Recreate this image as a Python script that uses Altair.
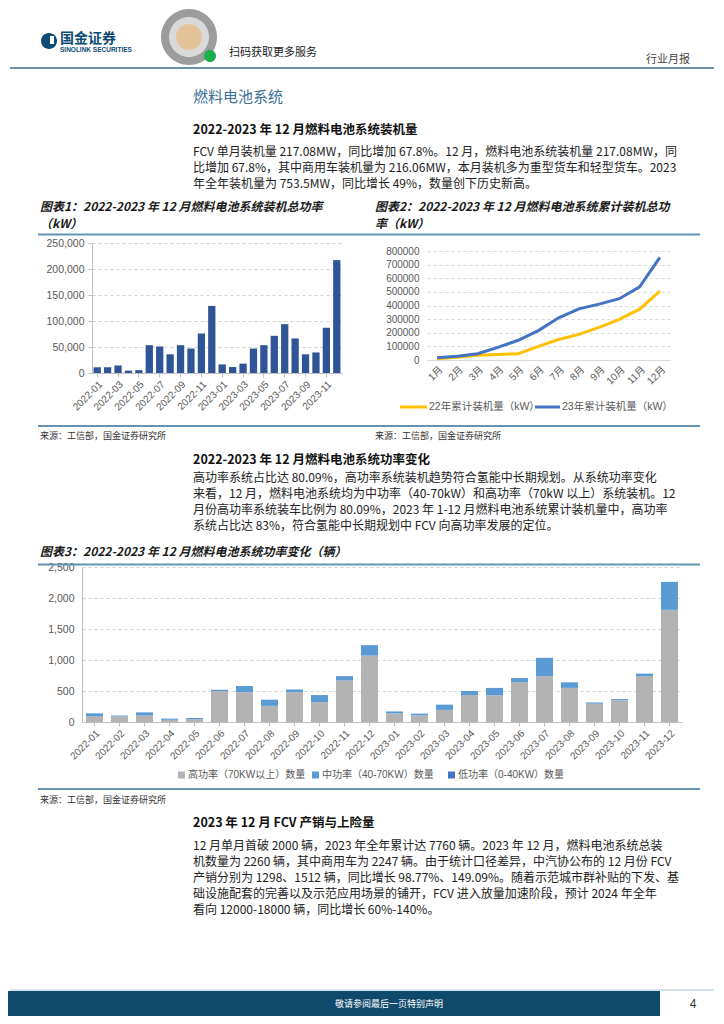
import altair as alt
import pandas as pd

# ------------------------- data -------------------------
months24 = ["2022-01", "2022-02", "2022-03", "2022-04", "2022-05", "2022-06",
            "2022-07", "2022-08", "2022-09", "2022-10", "2022-11", "2022-12",
            "2023-01", "2023-02", "2023-03", "2023-04", "2023-05", "2023-06",
            "2023-07", "2023-08", "2023-09", "2023-10", "2023-11", "2023-12"]
install_kw = [11000, 11000, 14500, 4500, 5500, 53500, 51000, 36000, 53500, 47000, 76000, 129000,
              16500, 11500, 18000, 47000, 53500, 71500, 94000, 66500, 36000, 39500, 87000, 217080]

months12 = ["1月", "2月", "3月", "4月", "5月", "6月", "7月", "8月", "9月", "10月", "11月", "12月"]
cum_names = ["22年累计装机量（kW）", "23年累计装机量（kW）"]
cum22 = [10000, 21000, 35000, 41000, 46000, 100000, 150000, 188000, 240000, 298000, 373000, 506000]
cum23 = [17000, 28000, 46000, 93000, 145000, 216000, 310000, 375000, 410000, 450000, 537000, 753500]

power_names = ["高功率（70KW以上）数量", "中功率（40-70KW）数量", "低功率（0-40KW）数量"]
high = [90, 90, 105, 35, 45, 500, 480, 260, 480, 320, 670, 1070,
        140, 105, 195, 435, 430, 640, 740, 550, 295, 350, 740, 1810]
mid = [50, 15, 50, 20, 20, 20, 100, 100, 45, 115, 60, 170,
       30, 30, 85, 65, 120, 70, 295, 90, 20, 20, 40, 450]
low = [0, 0, 0, 0, 0, 0, 0, 0, 0, 0, 10, 0,
       0, 0, 0, 0, 0, 0, 0, 0, 0, 0, 0, 0]

y1_ticks = [0, 50000, 100000, 150000, 200000, 250000]
y2_ticks = [0, 100000, 200000, 300000, 400000, 500000, 600000, 700000, 800000]
y3_ticks = [0, 500, 1000, 1500, 2000, 2500]
x1_labels = ["2022-01", "2022-03", "2022-05", "2022-07", "2022-09", "2022-11",
             "2023-01", "2023-03", "2023-05", "2023-07", "2023-09", "2023-11"]

# ------------------------- texts -------------------------
brand_cn = "国金证券"
brand_en = "SINOLINK SECURITIES"
qr_text = "扫码获取更多服务"
report_type = "行业月报"
section_title = "燃料电池系统"
sub1 = "2022-2023 年 12 月燃料电池系统装机量"
para1 = ["FCV 单月装机量 217.08MW，同比增加 67.8%。12 月，燃料电池系统装机量 217.08MW，同",
         "比增加 67.8%，其中商用车装机量为 216.06MW，本月装机多为重型货车和轻型货车。2023",
         "年全年装机量为 753.5MW，同比增长 49%，数量创下历史新高。"]
fig1_title = ["图表1：2022-2023 年 12 月燃料电池系统装机总功率", "（kW）"]
fig2_title = ["图表2：2022-2023 年 12 月燃料电池系统累计装机总功", "率（kW）"]
source = "来源：工信部，国金证券研究所"
sub2 = "2022-2023 年 12 月燃料电池系统功率变化"
para2 = ["高功率系统占比达 80.09%，高功率系统装机趋势符合氢能中长期规划。从系统功率变化",
         "来看，12 月，燃料电池系统均为中功率（40-70kW）和高功率（70kW 以上）系统装机。12",
         "月份高功率系统装车比例为 80.09%，2023 年 1-12 月燃料电池系统累计装机量中，高功率",
         "系统占比达 83%，符合氢能中长期规划中 FCV 向高功率发展的定位。"]
fig3_title = "图表3：2022-2023 年 12 月燃料电池系统功率变化（辆）"
sub3 = "2023 年 12 月 FCV 产销与上险量"
para3 = ["12 月单月首破 2000 辆，2023 年全年累计达 7760 辆。2023 年 12 月，燃料电池系统总装",
         "机数量为 2260 辆，其中商用车为 2247 辆。由于统计口径差异，中汽协公布的 12 月份 FCV",
         "产销分别为 1298、1512 辆，同比增长 98.77%、149.09%。随着示范城市群补贴的下发、基",
         "础设施配套的完善以及示范应用场景的铺开，FCV 进入放量加速阶段，预计 2024 年全年",
         "看向 12000-18000 辆，同比增长 60%-140%。"]
footer_text = "敬请参阅最后一页特别声明"
page_no = "4"

# ------------------------- styles -------------------------
BODY = "Noto Sans CJK SC"
NUMF = "Liberation Sans, Noto Sans CJK SC"
NAVY = "#0d4b72"
HEAD = "#3b6e90"
RULE = "#6393b0"
AXC = "#595959"
DUMMY = pd.DataFrame({"d": [0]})


def txt(x, y, s, size=12, color="#222222", weight="normal", style="normal",
        align="left", font=BODY):
    return alt.Chart(pd.DataFrame({"t": [s]})).mark_text(
        align=align, baseline="middle", fontSize=size, color=color,
        fontWeight=weight, fontStyle=style, font=font
    ).encode(x=alt.value(x), y=alt.value(y), text="t:N")


def hline(x1, x2, y, color, w=1.0):
    return alt.Chart(DUMMY).mark_rule(color=color, strokeWidth=w).encode(
        x=alt.value(x1), x2=alt.value(x2), y=alt.value(y))


def box(x1, x2, y1, y2, color, radius=0):
    return alt.Chart(DUMMY).mark_rect(color=color, cornerRadius=radius).encode(
        x=alt.value(x1), x2=alt.value(x2), y=alt.value(y1), y2=alt.value(y2))


def anchor(x, y):
    # invisible zero-length rule that fixes a layout extent
    return alt.Chart(DUMMY).mark_rule(opacity=0, strokeWidth=0).encode(
        x=alt.value(x), x2=alt.value(x), y=alt.value(y))


def spacer(w, h):
    return anchor(1, 1).properties(width=w, height=h)


# ------------------------- row A : header + text -------------------------
top_items = [
    box(33, 49, 25, 41, NAVY, 8), box(42, 46, 28, 36, "white"),
    txt(52, 31, brand_cn, 14, NAVY, "bold"),
    txt(52, 41.5, brand_en, 6.5, NAVY, "bold", font="Liberation Sans"),
    box(153, 209, 1, 57, "#9c9c9c", 28),
    box(161, 201, 9, 49, "#d9d9d9", 20),
    box(168, 194, 16, 42, "#e4c39b", 13),
    box(196, 208, 42, 54, "#1aad4e", 6),
    txt(221, 45, qr_text, 11, "#222222"),
    txt(682, 52, report_type, 11, "#444444", align="right"),
    hline(2, 706, 60, HEAD, 1.5),
    txt(185, 89, section_title, 15, "#3c6f96"),
    txt(185, 122, sub1, 12.5, "#111111", "bold"),
]
top_items += [txt(185, 144 + 16 * i, s, 12) for i, s in enumerate(para1)]
top_items += [txt(32, 199 + 17 * i, s, 12, "#1a1a1a", "bold", "italic") for i, s in enumerate(fig1_title)]
top_items += [txt(367, 199 + 17 * i, s, 12, "#1a1a1a", "bold", "italic") for i, s in enumerate(fig2_title)]
top_items += [hline(30, 692, 226.5, RULE, 2)]
rowA = alt.layer(*top_items).properties(width=706, height=229)

# ------------------------- chart 1 -------------------------
df1 = pd.DataFrame({"month": months24, "kw": install_kw})
x1 = alt.X("month:N", sort=months24, title=None,
           scale=alt.Scale(paddingInner=0.3, paddingOuter=0.15),
           axis=alt.Axis(values=x1_labels, labelAngle=-45, labelFontSize=10, labelColor=AXC,
                         labelFont=NUMF, domainColor="#bfbfbf", tickColor="#bfbfbf", tickSize=4,
                         labelPadding=2))
y1 = alt.Y("kw:Q", title=None, scale=alt.Scale(domain=[0, 250000]),
           axis=alt.Axis(values=y1_ticks, format=",d", grid=True, gridDash=[3, 3],
                         gridColor="#d0d0d0", domainColor="#bfbfbf", tickColor="#bfbfbf",
                         tickSize=4, labelFontSize=10.5, labelColor=AXC, labelFont=NUMF,
                         labelPadding=4))
chart1 = alt.layer(
    alt.Chart(df1).mark_bar(color="#2F5597").encode(x=x1, y=y1),
    anchor(-50, -6), anchor(285, 175),
).properties(width=250, height=130)

# ------------------------- chart 2 (plot drawn 8px lower inside its view) -------------------------
df2 = pd.DataFrame({"month": months12 * 2,
                    "series": [cum_names[0]] * 12 + [cum_names[1]] * 12,
                    "kw": cum22 + cum23})
x2 = alt.X("month:N", sort=months12, title=None,
           axis=alt.Axis(labelAngle=-45, ticks=False, domainColor="#d9d9d9", labelFontSize=10,
                         labelColor=AXC, labelFont=NUMF, labelPadding=4))
y2 = alt.Y("kw:Q", title=None, scale=alt.Scale(domain=[0, 800000], range=[117, 8]),
           axis=alt.Axis(values=y2_ticks, format="d", domain=False, ticks=False, grid=True,
                         gridDash=[3, 3], gridColor="#d9d9d9", labelFontSize=10,
                         labelColor=AXC, labelFont=NUMF, labelPadding=8))
leg2 = [
    hline(-27, 0, 164, "#FFC000", 3), txt(2, 164, cum_names[0], 10.5, AXC, font=NUMF),
    hline(108, 133, 164, "#4472C4", 3), txt(135, 164, cum_names[1], 10.5, AXC, font=NUMF),
]
chart2 = alt.layer(
    alt.Chart(df2).mark_line(strokeWidth=3).encode(
        x=x2, y=y2,
        stroke=alt.Stroke("series:N", scale=alt.Scale(domain=cum_names, range=["#FFC000", "#4472C4"]),
                          legend=None)),
    *leg2,
    anchor(-50, -6),
).properties(width=243, height=117)

row2 = alt.hconcat(spacer(34, 1), chart1, chart2, spacing=0)

# ------------------------- row C : middle text -------------------------
mid_items = [
    hline(30, 692, 8, RULE, 2),
    txt(32, 18, source, 9, "#333333"), txt(367, 18, source, 9, "#333333"),
    txt(185, 42, sub2, 12.5, "#111111", "bold"),
]
mid_items += [txt(185, 60 + 16 * i, s, 12) for i, s in enumerate(para2)]
mid_items += [txt(32, 134, fig3_title, 12, "#1a1a1a", "bold", "italic")]
rowC = alt.layer(*mid_items).properties(width=706, height=143)

# ------------------------- chart 3 -------------------------
df3 = pd.DataFrame({"month": months24 * 3,
                    "level": [power_names[0]] * 24 + [power_names[1]] * 24 + [power_names[2]] * 24,
                    "n": high + mid + low,
                    "ord": [0] * 24 + [1] * 24 + [2] * 24})
x3 = alt.X("month:N", sort=months24, title=None,
           scale=alt.Scale(paddingInner=0.32, paddingOuter=0.16),
           axis=alt.Axis(labelAngle=-45, labelFontSize=10, labelColor=AXC, labelFont=NUMF,
                         domainColor="#bfbfbf", tickColor="#bfbfbf", tickSize=4, labelPadding=2))
y3 = alt.Y("n:Q", stack="zero", title=None, scale=alt.Scale(domain=[0, 2500]),
           axis=alt.Axis(values=y3_ticks, format=",d", grid=True, gridDash=[3, 3],
                         gridColor="#d0d0d0", domainColor="#bfbfbf", ticks=False,
                         labelFontSize=10.5, labelColor=AXC, labelFont=NUMF, labelPadding=8))
leg_cols = ["#B3B3B3", "#5B9BD5", "#4472C4"]
leg_x = [96, 230, 366]
leg3 = []
for nm, lx, col in zip(power_names, leg_x, leg_cols):
    leg3 += [box(lx, lx + 7, 204.5, 211.5, col), txt(lx + 10, 208, nm, 10, AXC, font=NUMF)]
chart3 = alt.layer(
    alt.Chart(df3).mark_bar().encode(
        x=x3, y=y3,
        fill=alt.Fill("level:N", scale=alt.Scale(domain=power_names, range=leg_cols), legend=None),
        order=alt.Order("ord:Q", sort="ascending")),
    hline(-44, 618, -2.5, RULE, 2),
    *leg3,
    anchor(-50, -6), anchor(600, 218),
).properties(width=600, height=155)

row4 = alt.hconcat(spacer(24, 1), chart3, spacing=0)

# ------------------------- row E : bottom text + footer -------------------------
bot_items = [
    hline(30, 692, 4, RULE, 2),
    txt(32, 15, source, 9, "#333333"),
    txt(185, 38, sub3, 12.5, "#111111", "bold"),
]
bot_items += [txt(185, 61 + 16 * i, s, 12) for i, s in enumerate(para3)]
bot_items += [
    hline(2, 706, 205, "#a9c3d6", 1),
    box(0, 652, 206, 231, "#0f4a6c"),
    txt(327, 218.5, footer_text, 9, "white"),
    txt(685, 218.5, page_no, 12, "#333333", align="center", font="Liberation Sans"),
]
rowE = alt.layer(*bot_items).properties(width=706, height=231)

# ------------------------- page -------------------------
chart = alt.vconcat(rowA, row2, rowC, row4, rowE, spacing=0).properties(
    padding=0).configure_view(stroke=None)

chart.save("out.html", embed_options={"renderer": "svg", "actions": False})
